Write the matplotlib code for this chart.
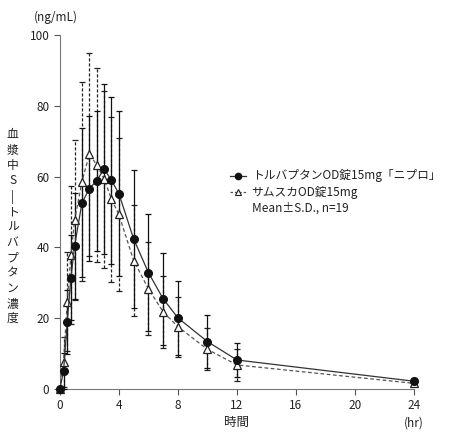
import matplotlib
matplotlib.use("Agg")
import matplotlib.pyplot as plt
import numpy as np

plt.rcParams['font.family'] = ['Noto Sans CJK JP', 'DejaVu Sans']

# sampling times (hr)
time = [0, 0.25, 0.5, 0.75, 1, 1.5, 2, 2.5, 3, 3.5, 4, 5, 6, 7, 8, 10, 12, 24]

# トルバプタンOD錠15mg「ニプロ」
nipro_mean = [0, 5.1, 18.9, 31.4, 40.5, 52.6, 56.6, 58.8, 62.2, 58.9, 55.2,
              42.4, 32.9, 25.5, 20.1, 13.4, 8.2, 2.2]
nipro_sd = [0, 5.0, 9.0, 12.0, 15.0, 21.0, 20.5, 19.8, 24.0, 23.7, 23.3,
            19.6, 16.4, 13.0, 10.4, 7.5, 4.7, 0.8]

# サムスカOD錠15mg
samsca_mean = [0, 7.7, 24.6, 37.8, 47.7, 58.6, 66.3, 63.3, 59.3, 53.6, 49.3,
               36.3, 28.3, 21.8, 17.6, 11.2, 6.8, 1.6]
samsca_sd = [0, 7.0, 14.0, 19.5, 22.5, 28.2, 28.7, 27.5, 25.0, 23.3, 21.5,
             15.8, 13.1, 10.2, 8.5, 5.9, 4.4, 0.7]

xticks = [0, 4, 8, 12, 16, 20, 24]
yticks = [0, 20, 40, 60, 80, 100]

fig = plt.figure(figsize=(4.5, 4.32), dpi=100)
ax = fig.add_axes([0.133, 0.0995, 0.787, 0.8195])

# reference product: dashed line, open triangles, dashed error bars
eb2 = ax.errorbar(time, samsca_mean, yerr=samsca_sd, fmt='none', ecolor='#222222',
                  elinewidth=0.9, capsize=2.5, capthick=0.9, clip_on=False, zorder=2)
for c in eb2[2]:
    c.set_linestyle((0, (2.5, 1.5)))
ax.plot(time, samsca_mean, color='#555555', lw=0.9, ls=(0, (3, 2)),
        marker='^', ms=5.5, mfc='white', mec='#222222', mew=0.9,
        clip_on=False, zorder=4)

# test product: solid line, filled circles, solid error bars
ax.errorbar(time, nipro_mean, yerr=nipro_sd, fmt='none', ecolor='#111111',
            elinewidth=0.9, capsize=2.5, capthick=0.9, clip_on=False, zorder=3)
ax.plot(time, nipro_mean, color='#333333', lw=0.9, marker='o', ms=5.5,
        mfc='#111111', mec='#111111', clip_on=False, zorder=5)

ax.set_xlim(0, 24)
ax.set_ylim(0, 100)
ax.set_xticks(xticks)
ax.set_yticks(yticks)
ax.spines['top'].set_visible(False)
ax.spines['right'].set_visible(False)
ax.spines['left'].set_color('#777777')
ax.spines['bottom'].set_color('#777777')
ax.tick_params(direction='out', length=4, width=0.8, color='#555555',
               labelsize=8.5, labelcolor='#222222')

ax.text(24, -9.5, '(hr)', ha='center', va='center', fontsize=8.5, color='#222222')
ax.text(12, -9.5, '時間', ha='center', va='center', fontsize=9, color='#222222')
fig.text(0.125, 0.975, '(ng/mL)', ha='center', va='top', fontsize=8.5, color='#222222')

ylab = ['血', '漿', '中', 'S', '|', 'ト', 'ル', 'バ', 'プ', 'タ', 'ン', '濃', '度']
fig.text(0.028, 0.475, '\n'.join(ylab), ha='center', va='center', fontsize=8.5,
         linespacing=1.22, color='#222222')

# legend drawn as text with sample markers
lx = [11.5, 12.6]
ax.plot(lx, [60.2, 60.2], color='#333333', lw=0.9, clip_on=False)
ax.plot([12.05], [60.2], marker='o', ms=4.5, color='#111111', clip_on=False)
ax.plot(lx, [55.6, 55.6], color='#555555', lw=0.9, ls=(0, (2, 1.5)), clip_on=False)
ax.plot([12.05], [55.6], marker='^', ms=4.5, mfc='white', mec='#222222', mew=0.8,
        clip_on=False)
ax.text(13.0, 60.2, 'トルバプタンOD錠15mg「ニプロ」', va='center', fontsize=8.5,
        color='#222222')
ax.text(13.0, 55.6, 'サムスカOD錠15mg', va='center', fontsize=8.5, color='#222222')
ax.text(13.0, 51.0, 'Mean±S.D., n=19', va='center', fontsize=8.5, color='#222222')

fig.savefig('out.png', dpi=100)
